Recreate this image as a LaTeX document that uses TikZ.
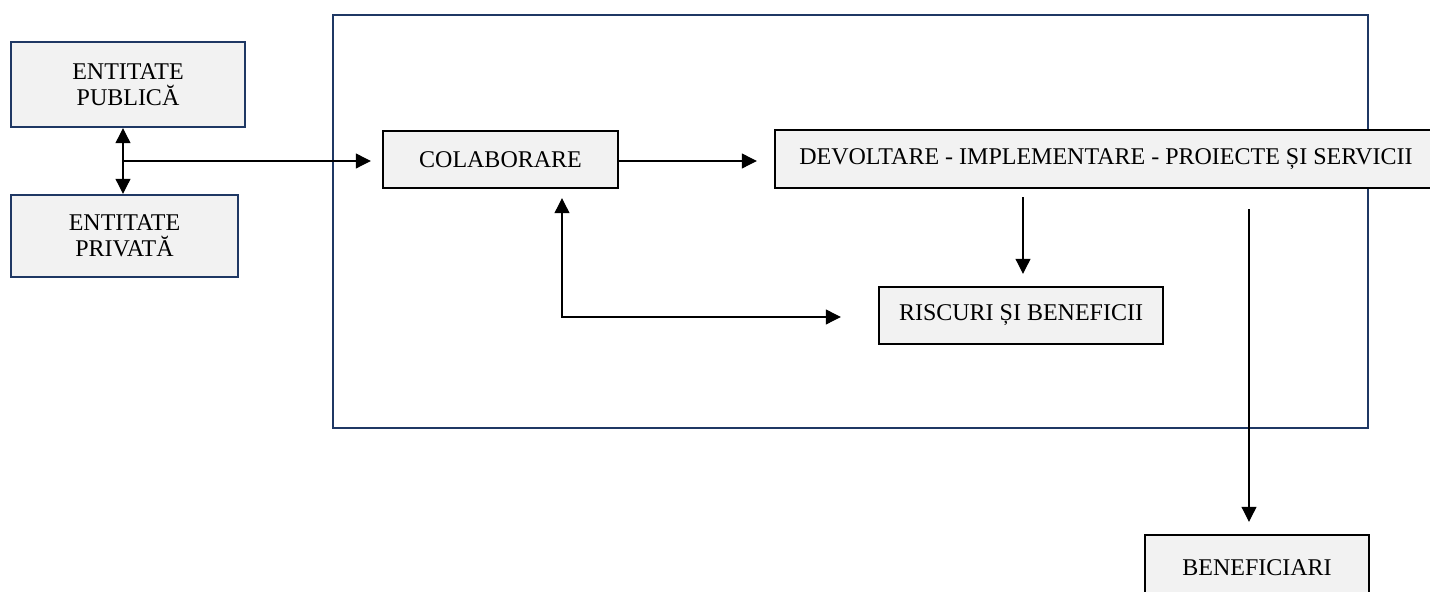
\documentclass[tikz,border=0pt]{standalone}
\usepackage{fontspec}
\setmainfont{Liberation Serif}
\usetikzlibrary{arrows.meta}
\definecolor{navy}{HTML}{1F3864}
\definecolor{boxfill}{HTML}{F2F2F2}
\tikzset{
  box/.style={draw=black, line width=1.2pt, fill=boxfill, inner sep=0pt, align=center,
    font=\fontsize{12}{13}\selectfont},
  nbox/.style={box, draw=navy},
  arr/.style={-{Triangle[length=7.5pt,width=7.5pt]}, line width=0.55pt, black},
  darr/.style={{Triangle[length=7.5pt,width=7.5pt]}-{Triangle[length=7.5pt,width=7.5pt]}, line width=0.55pt, black},
  frame/.style={draw=navy, line width=1.1pt}
}
\begin{document}
\begin{tikzpicture}[x=0.5pt, y=-0.5pt]
\useasboundingbox (0,0) rectangle (1430,592);
% outer frame
\draw[frame] (333,15) rectangle (1368,428);
% nodes
\node[nbox, minimum width=117pt, minimum height=42.5pt] (pub) at (128,84.5) {ENTITATE\\PUBLICĂ};
\node[nbox, minimum width=113.5pt, minimum height=41pt] (priv) at (124.5,236) {ENTITATE\\PRIVATĂ};
\node[box, minimum width=117.5pt, minimum height=28.5pt] (colab) at (500.5,159.5) {COLABORARE};
\node[box, minimum width=331pt, minimum height=29pt] (devol) at (1106,159) {DEVOLTARE - IMPLEMENTARE - PROIECTE ȘI SERVICII};
\node[box, minimum width=142pt, minimum height=28.5pt] (risc) at (1021,315.5) {RISCURI ȘI BENEFICII};
\node[box, minimum width=112pt, minimum height=33pt] (benef) at (1257,568) {BENEFICIARI};
% helper coordinates
\coordinate (junc) at (123,161);
\coordinate (loopc) at (562,317);
\coordinate (dr) at (1023,0);
\coordinate (db) at (1249,0);
% connectors
\draw[arr] (junc) -- (junc |- pub.south);
\draw[arr] (junc) -- (junc |- priv.north);
\draw[arr, shorten >=5.5pt] (junc) -- (junc -| colab.west);
\draw[arr, shorten >=8.5pt] (colab.east |- junc) -- (junc -| devol.west);
\draw[arr, shorten <=4pt, shorten >=6pt] (dr |- devol.south) -- (dr |- risc.north);
\draw[darr, shorten <=4.5pt, shorten >=18.5pt] (loopc |- colab.south) -- (loopc) -- (loopc -| risc.west);
\draw[arr, shorten <=10pt, shorten >=6pt] (db |- devol.south) -- (db |- benef.north);
\end{tikzpicture}
\end{document}
